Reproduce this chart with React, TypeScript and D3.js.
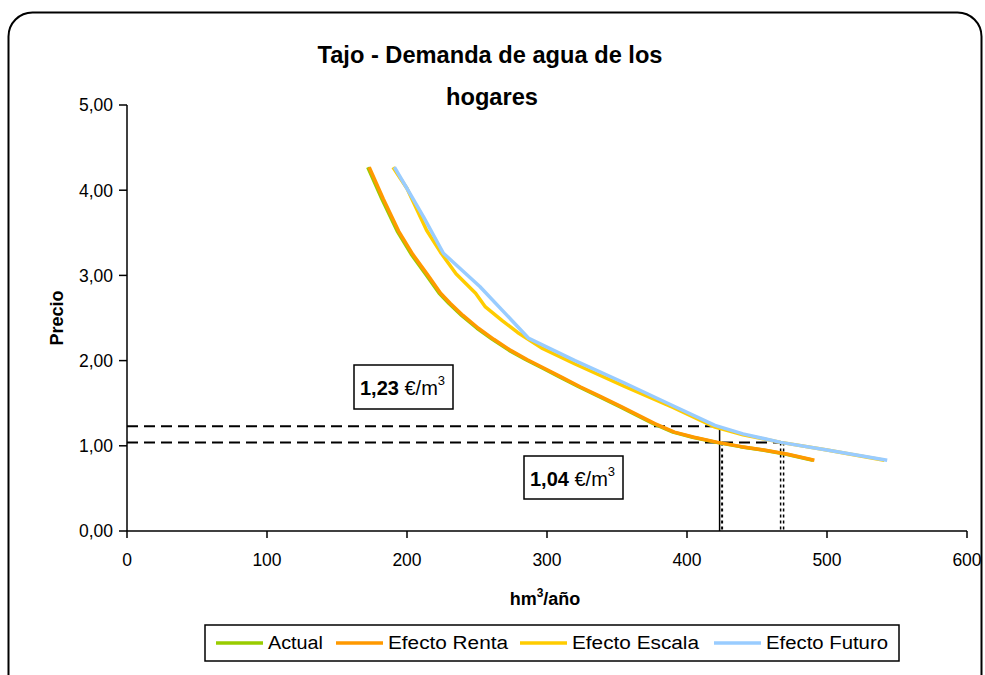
import React from 'react';
import * as d3 from 'd3';

// Demand curves: quantity (hm³/año) and price (€/m³)
const actualQ = [172, 182, 193, 203, 214, 223, 230, 239, 250, 261, 273, 285, 297, 310, 323, 337, 352, 364, 376, 390, 404, 421, 438, 454, 471, 490];
const actualP = [4.27, 3.9, 3.52, 3.25, 3.0, 2.79, 2.67, 2.53, 2.38, 2.25, 2.12, 2.01, 1.91, 1.8, 1.69, 1.58, 1.46, 1.36, 1.26, 1.16, 1.1, 1.04, 0.99, 0.95, 0.9, 0.83];

const rentaQ = [173, 183, 194, 204, 215, 224, 231, 240, 251, 262, 274, 286, 298, 311, 324, 338, 353, 365, 377, 391, 405, 422, 439, 455, 472, 491];
const rentaP = [4.27, 3.9, 3.52, 3.25, 3.0, 2.79, 2.67, 2.53, 2.38, 2.25, 2.12, 2.01, 1.91, 1.8, 1.69, 1.58, 1.46, 1.36, 1.26, 1.16, 1.1, 1.04, 0.99, 0.95, 0.9, 0.83];

const escalaQ = [190, 200, 214, 224, 235, 249, 256, 268, 279, 296, 320, 355, 390, 420, 440, 467, 500, 541];
const escalaP = [4.27, 4.02, 3.53, 3.27, 3.02, 2.79, 2.63, 2.47, 2.33, 2.15, 1.96, 1.7, 1.45, 1.22, 1.13, 1.04, 0.95, 0.83];

const futuroQ = [191, 200, 212, 226, 252, 287, 320, 355, 390, 420, 440, 467, 500, 543];
const futuroP = [4.27, 4.02, 3.68, 3.26, 2.87, 2.26, 2.0, 1.74, 1.47, 1.24, 1.14, 1.04, 0.95, 0.83];

const seriesNames = ['Actual', 'Efecto Renta', 'Efecto Escala', 'Efecto Futuro'];
const seriesColors = ['#99CC00', '#FF9900', '#FFCC00', '#99CCFF'];

const xTicks = [0, 100, 200, 300, 400, 500, 600];
const yTicks = [0, 1, 2, 3, 4, 5];

// Reference prices and the quantities where they meet the curves
const priceHigh = 1.23;
const priceLow = 1.04;
const qHigh = 424;
const qLow = 469;

const FONT = '"Liberation Sans", Arial, Helvetica, sans-serif';

const locale = d3.formatLocale({ decimal: ',', thousands: '.', grouping: [3], currency: ['', '€'] });
const fmt2 = locale.format('.2f');

export default function App() {
  const x = d3.scaleLinear().domain([0, 600]).range([127, 967]);
  const y = d3.scaleLinear().domain([0, 5]).range([531, 105]);

  const build = (qs: number[], ps: number[]) => qs.map((q, i) => [q, ps[i]] as [number, number]);
  const series = [
    build(actualQ, actualP),
    build(rentaQ, rentaP),
    build(escalaQ, escalaP),
    build(futuroQ, futuroP),
  ];
  const line = d3.line<[number, number]>().x(d => x(d[0])).y(d => y(d[1]));

  const legendX = [216, 336, 520, 714];
  const legendTextLen = [55, 120, 127, 122];

  return (
    <svg width={985} height={675} style={{ position: 'absolute', left: 0, top: 0 }} fontFamily={FONT}>
      <rect x={0} y={0} width={985} height={675} fill="#fff" />
      {/* chart frame */}
      <rect x={8.5} y={12.5} width={973} height={720} rx={24} ry={24} fill="#fff" stroke="#000" strokeWidth={2} />

      {/* title */}
      <text x={490} y={63} textAnchor="middle" fontSize={23} fontWeight="bold" textLength={345} lengthAdjust="spacingAndGlyphs">Tajo - Demanda de agua de los</text>
      <text x={492} y={105} textAnchor="middle" fontSize={23} fontWeight="bold" textLength={92} lengthAdjust="spacingAndGlyphs">hogares</text>

      {/* axes */}
      <line x1={127} y1={y(5)} x2={127} y2={y(0)} stroke="#000" strokeWidth={1.5} />
      <line x1={127} y1={y(0)} x2={x(600)} y2={y(0)} stroke="#000" strokeWidth={1.5} />
      {yTicks.map(t => (
        <g key={'y' + t}>
          <line x1={119} x2={127} y1={y(t)} y2={y(t)} stroke="#000" strokeWidth={1.5} />
          <text x={113} y={y(t)} dy="0.36em" textAnchor="end" fontSize={17.5}>{fmt2(t)}</text>
        </g>
      ))}
      {xTicks.map(t => (
        <g key={'x' + t}>
          <line x1={x(t)} x2={x(t)} y1={y(0)} y2={y(0) + 7} stroke="#000" strokeWidth={1.5} />
          <text x={x(t)} y={566} textAnchor="middle" fontSize={17.5}>{t}</text>
        </g>
      ))}

      {/* axis titles */}
      <text transform={`translate(63,318) rotate(-90)`} textAnchor="middle" fontSize={18} fontWeight="bold">Precio</text>
      <text x={545} y={605} textAnchor="middle" fontSize={18} fontWeight="bold">
        hm<tspan fontSize={12} dy={-8}>3</tspan><tspan dy={8}>/año</tspan>
      </text>

      {/* reference lines */}
      <line x1={127} x2={x(qHigh)} y1={y(priceHigh)} y2={y(priceHigh)} stroke="#000" strokeWidth={2} strokeDasharray="11,6" />
      <line x1={127} x2={x(qLow)} y1={y(priceLow)} y2={y(priceLow)} stroke="#000" strokeWidth={2} strokeDasharray="11,6" />
      <line x1={x(qHigh) - 1} x2={x(qHigh) - 1} y1={y(priceHigh)} y2={y(0)} stroke="#000" strokeWidth={1.5} />
      <line x1={x(qHigh) + 1.5} x2={x(qHigh) + 1.5} y1={y(priceLow)} y2={y(0)} stroke="#000" strokeWidth={2} strokeDasharray="3,3" />
      <line x1={x(qLow) - 3} x2={x(qLow) - 3} y1={y(priceLow)} y2={y(0)} stroke="#000" strokeWidth={1.5} strokeDasharray="3,3" />
      <line x1={x(qLow)} x2={x(qLow)} y1={y(priceLow)} y2={y(0)} stroke="#000" strokeWidth={1.5} strokeDasharray="3,3" />

      {/* demand curves */}
      {series.map((s, i) => (
        <path key={i} d={line(s) || ''} fill="none" stroke={seriesColors[i]} strokeWidth={3.5} strokeLinejoin="round" />
      ))}

      {/* price boxes */}
      <rect x={354} y={365} width={99} height={44} fill="#fff" stroke="#000" strokeWidth={1.5} />
      <text x={360} y={395} fontSize={20}>
        <tspan fontWeight="bold">{fmt2(priceHigh)}</tspan> €/m<tspan fontSize={13} dy={-10}>3</tspan>
      </text>
      <rect x={524} y={456} width={99} height={43} fill="#fff" stroke="#000" strokeWidth={1.5} />
      <text x={530} y={486} fontSize={20}>
        <tspan fontWeight="bold">{fmt2(priceLow)}</tspan> €/m<tspan fontSize={13} dy={-10}>3</tspan>
      </text>

      {/* legend */}
      <rect x={205} y={625} width={694} height={36} fill="#fff" stroke="#000" strokeWidth={1.5} />
      {seriesNames.map((n, i) => (
        <g key={n}>
          <line x1={legendX[i]} x2={legendX[i] + 47} y1={643} y2={643} stroke={seriesColors[i]} strokeWidth={3.5} />
          <text x={legendX[i] + 52} y={643} dy="0.36em" fontSize={18} textLength={legendTextLen[i]} lengthAdjust="spacingAndGlyphs">{n}</text>
        </g>
      ))}
    </svg>
  );
}
